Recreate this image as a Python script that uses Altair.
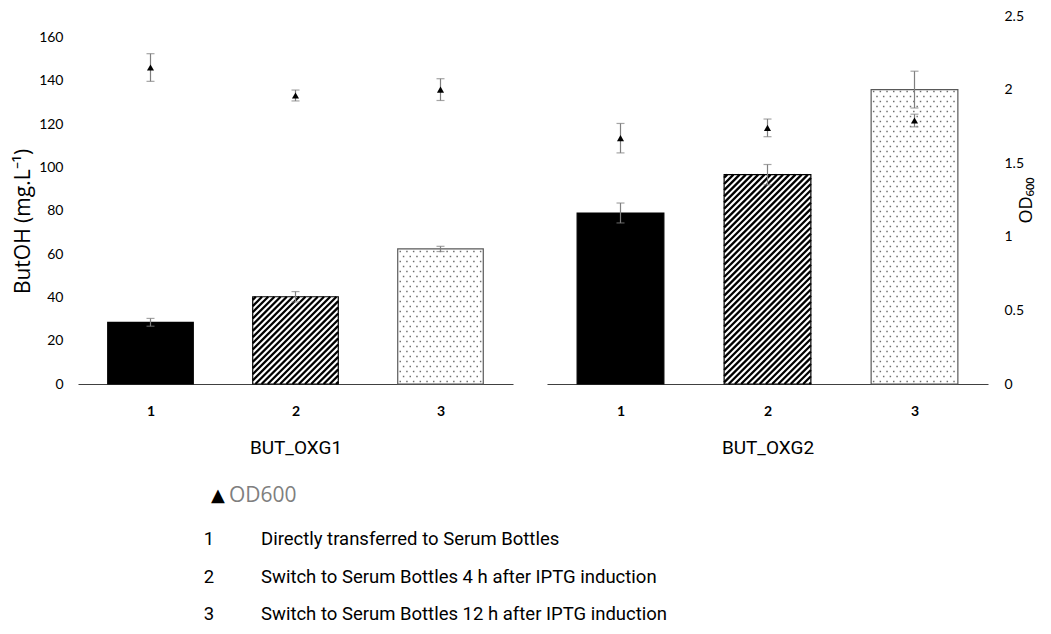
import altair as alt
import pandas as pd

# ---------------- data ----------------
conditions = [1, 2, 3]
strain_names = ["BUT_OXG1", "BUT_OXG2"]

butoh_oxg1 = [28.5, 40.3, 62.4]
butoh_oxg1_sd = [1.8, 2.4, 1.2]
od_oxg1 = [2.15, 1.96, 2.00]
od_oxg1_sd = [0.094, 0.037, 0.074]

butoh_oxg2 = [79.0, 96.7, 136.0]
butoh_oxg2_sd = [4.6, 4.7, 8.5]
od_oxg2 = [1.67, 1.74, 1.79]
od_oxg2_sd = [0.10, 0.06, 0.043]

legend_numbers = ["1", "2", "3"]
legend_texts = [
    "Directly transferred to Serum Bottles",
    "Switch to Serum Bottles 4 h after IPTG induction",
    "Switch to Serum Bottles 12 h after IPTG induction",
]
od_legend_label = "OD600"

# ---------------- style ----------------
PLOT_H = 368
BUTOH_MAX = 170
OD_MAX = 2.5
BAR_HALF = 0.295
HATCH_PERIOD = 6.2
DOT_DX = 6.7
DOT_DY = 5.0
ERR_COLOR = "#7f7f7f"
TICK_FONT = "Lato"
NARROW_FONT = "Roboto"


def hatch_segments(center, value, px_x, px_y):
    """45-degree '/' hatch lines clipped to a bar, in data units."""
    w = 2 * BAR_HALF * px_x
    h = value * px_y
    rows = []
    k = -h + HATCH_PERIOD / 2
    while k < w:
        y0 = max(0.0, -k)
        y1 = min(h, w - k)
        if y1 > y0:
            rows.append({
                "hx": center - BAR_HALF + (k + y0) / px_x,
                "hx2": center - BAR_HALF + (k + y1) / px_x,
                "hy": y0 / px_y,
                "hy2": y1 / px_y,
            })
        k += HATCH_PERIOD
    return rows


def dot_grid(center, value, px_x, px_y):
    """Staggered stipple dots filling a bar, in data units."""
    w = 2 * BAR_HALF * px_x
    h = value * px_y
    rows = []
    j = 0
    yy = 2.5
    while yy < h - 1.5:
        xx = 2.5 + (DOT_DX / 2 if j % 2 else 0)
        while xx < w - 1.5:
            rows.append({"dx": center - BAR_HALF + xx / px_x, "dy": yy / px_y})
            xx += DOT_DX
        yy += DOT_DY
        j += 1
    return rows


def panel(strain, butoh, butoh_sd, od, od_sd, width, side):
    px_x = width / 3.0
    px_y = PLOT_H / BUTOH_MAX

    bars = pd.DataFrame({"cond": conditions, "butoh": butoh, "sd": butoh_sd})
    bars["x0"] = bars["cond"] - BAR_HALF
    bars["x1"] = bars["cond"] + BAR_HALF
    bars["lo"] = bars["butoh"] - bars["sd"]
    bars["hi"] = bars["butoh"] + bars["sd"]
    bars["base"] = 0.0
    bars["style"] = ["solid", "hatch", "dots"]

    ods = pd.DataFrame({"cond": conditions, "od": od, "sd": od_sd})
    ods["lo"] = ods["od"] - ods["sd"]
    ods["hi"] = ods["od"] + ods["sd"]

    hatch = pd.DataFrame(hatch_segments(2, butoh[1], px_x, px_y))
    dots = pd.DataFrame(dot_grid(3, butoh[2], px_x, px_y))

    x_scale = alt.Scale(domain=[0.5, 3.5], nice=False, zero=False)
    x_axis = alt.Axis(
        values=conditions, format="d", title=strain, ticks=False, grid=False,
        domainColor="#404040", domainWidth=1.2,
        labelFont=TICK_FONT, labelFontSize=14, labelFontWeight="bold",
        labelColor="#000000", labelPadding=20,
        titleFont=NARROW_FONT, titleFontSize=19, titleFontWeight="normal",
        titleColor="#000000", titlePadding=20,
    )

    def X(field):
        return alt.X(field, type="quantitative", scale=x_scale, axis=x_axis)

    y_scale = alt.Scale(domain=[0, BUTOH_MAX], nice=False)
    if side == "left":
        y_axis = alt.Axis(
            values=[0, 20, 40, 60, 80, 100, 120, 140, 160], orient="left",
            title="ButOH (mg.L⁻¹)", ticks=False, domain=False, grid=False,
            labelFont=TICK_FONT, labelFontSize=14, labelColor="#000000",
            labelPadding=15, titleFont="Open Sans", titleFontSize=21,
            titleFontWeight="normal", titleColor="#000000", titlePadding=5,
            titleY=205,
        )
    else:
        y_axis = None

    def Y(field):
        return alt.Y(field, type="quantitative", scale=y_scale, axis=y_axis)

    od_scale = alt.Scale(domain=[0, OD_MAX], nice=False)
    if side == "right":
        od_axis = alt.Axis(
            values=[0, 0.5, 1, 1.5, 2, 2.5], format="~g", orient="right",
            title="OD₆₀₀", titleAngle=270, ticks=False, domain=False, grid=False,
            labelFont=TICK_FONT, labelFontSize=14, labelColor="#000000",
            labelPadding=16, titleFont="Open Sans", titleFontSize=18,
            titleFontWeight="normal", titleColor="#000000", titlePadding=12,
        )
    else:
        od_axis = None

    def YO(field):
        return alt.Y(field, type="quantitative", scale=od_scale, axis=od_axis)

    fill_scale = alt.Scale(domain=["solid", "hatch", "dots"],
                           range=["#000000", "#ffffff", "#ffffff"])
    stroke_scale = alt.Scale(domain=["solid", "hatch", "dots"],
                             range=["#000000", "#000000", "#595959"])

    bar_fill = alt.Chart(bars).mark_rect(strokeWidth=0).encode(
        x=X("x0"), x2="x1", y=Y("base"), y2="butoh",
        fill=alt.Fill("style:N", scale=fill_scale, legend=None),
    )
    hatch_lines = alt.Chart(hatch).mark_rule(
        color="#000000", strokeWidth=2.3, strokeCap="butt"
    ).encode(x=X("hx"), x2="hx2", y=Y("hy"), y2="hy2")
    stipple = alt.Chart(dots).mark_square(
        size=2.2, color="#6e6e6e", opacity=1
    ).encode(x=X("dx"), y=Y("dy"))
    bar_edge = alt.Chart(bars).mark_rect(fillOpacity=0, strokeWidth=1.2).encode(
        x=X("x0"), x2="x1", y=Y("base"), y2="butoh",
        stroke=alt.Stroke("style:N", scale=stroke_scale, legend=None),
    )
    bar_err = alt.Chart(bars).mark_rule(color=ERR_COLOR, strokeWidth=1.2).encode(
        x=X("cond"), y=Y("lo"), y2="hi"
    )
    bar_cap_lo = alt.Chart(bars).mark_tick(
        color=ERR_COLOR, orient="horizontal", size=8, thickness=1.2
    ).encode(x=X("cond"), y=Y("lo"))
    bar_cap_hi = alt.Chart(bars).mark_tick(
        color=ERR_COLOR, orient="horizontal", size=8, thickness=1.2
    ).encode(x=X("cond"), y=Y("hi"))

    butoh_layer = alt.layer(
        bar_fill, hatch_lines, stipple, bar_edge, bar_err, bar_cap_lo, bar_cap_hi
    )

    od_err = alt.Chart(ods).mark_rule(color=ERR_COLOR, strokeWidth=1.2).encode(
        x=X("cond"), y=YO("lo"), y2="hi"
    )
    od_cap_lo = alt.Chart(ods).mark_tick(
        color=ERR_COLOR, orient="horizontal", size=8, thickness=1.2
    ).encode(x=X("cond"), y=YO("lo"))
    od_cap_hi = alt.Chart(ods).mark_tick(
        color=ERR_COLOR, orient="horizontal", size=8, thickness=1.2
    ).encode(x=X("cond"), y=YO("hi"))
    od_pts = alt.Chart(ods).mark_point(
        shape="triangle-up", filled=True, color="#000000", size=50, opacity=1
    ).encode(x=X("cond"), y=YO("od"))

    od_layer = alt.layer(od_err, od_cap_lo, od_cap_hi, od_pts)

    return [butoh_layer, od_layer], width


def legend_layers():
    """Key printed under the left panel."""
    head = pd.DataFrame({"glyph": ["▲"], "label": [od_legend_label]})
    items = pd.DataFrame({"num": legend_numbers, "text": legend_texts,
                          "row": [0, 1, 2]})
    row_y = alt.Y("row:Q", scale=alt.Scale(domain=[0, 2], range=[523, 598]),
                  axis=None)
    tri = alt.Chart(head).mark_text(
        align="left", baseline="middle", fontSize=18, color="#000000",
        font="DejaVu Sans"
    ).encode(text="glyph:N", x=alt.value(133), y=alt.value(480))
    lab = alt.Chart(head).mark_text(
        align="left", baseline="middle", fontSize=21, color="#7f7f7f",
        font="Open Sans"
    ).encode(text="label:N", x=alt.value(151), y=alt.value(480))
    nums = alt.Chart(items).mark_text(
        align="center", baseline="middle", fontSize=18.5, color="#000000",
        font=NARROW_FONT
    ).encode(text="num:N", x=alt.value(131), y=row_y)
    txt = alt.Chart(items).mark_text(
        align="left", baseline="middle", fontSize=18.5, color="#000000",
        font=NARROW_FONT
    ).encode(text="text:N", x=alt.value(183), y=row_y)
    return [tri, lab, nums, txt]


left_layers, lw = panel(strain_names[0], butoh_oxg1, butoh_oxg1_sd,
                        od_oxg1, od_oxg1_sd, 435, "left")
right_layers, rw = panel(strain_names[1], butoh_oxg2, butoh_oxg2_sd,
                         od_oxg2, od_oxg2_sd, 441, "right")

left_panel = alt.layer(
    alt.layer(*left_layers).resolve_scale(y="independent"),
    *legend_layers(),
).resolve_scale(y="independent").properties(width=lw, height=PLOT_H)

right_panel = alt.layer(*right_layers).resolve_scale(y="independent").properties(
    width=rw, height=PLOT_H
)

chart = alt.hconcat(left_panel, right_panel, spacing=34, bounds="flush").properties(
    padding={"left": 12, "top": 9, "right": 0, "bottom": 0},
    background="#ffffff",
).configure_view(strokeWidth=0, stroke=None)

chart.save("out.html", embed_options={"renderer": "svg", "actions": False})
